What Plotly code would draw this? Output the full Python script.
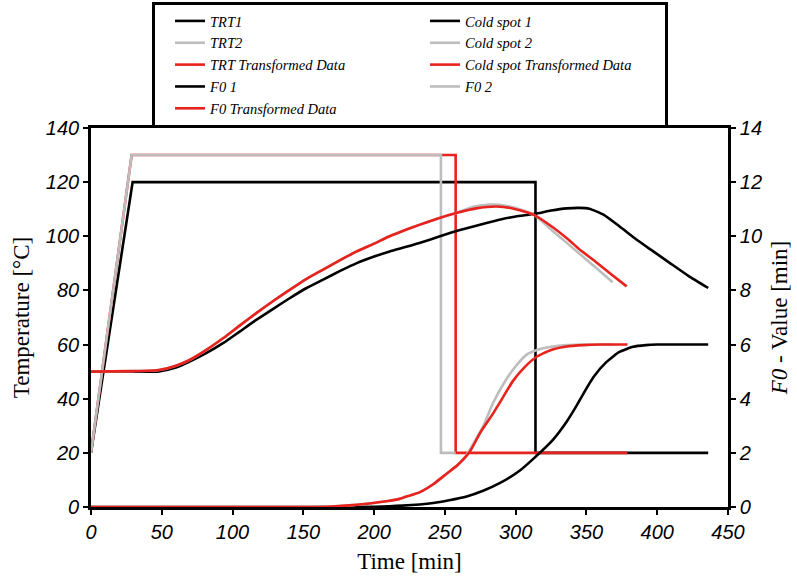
import plotly.graph_objects as go

# --- Retort temperature profiles (°C) ---
trt1_t = [0, 29.4, 314, 314, 436]
trt1_v = [20, 120, 120, 20, 20]
trt2_t = [0, 28.7, 247.2, 247.2, 257.6]
trt2_v = [20, 130, 130, 20, 20]
trt_tr_t = [0, 28.7, 257.6, 257.6, 379]
trt_tr_v = [20, 130, 130, 20, 20]

# --- Cold spot temperatures (°C) ---
cs1_t = [0, 30, 48, 60, 70, 82, 93.5, 105, 117, 129, 140.6, 152, 164, 176, 187.7,
         200, 211, 222, 232, 246.5, 260, 274.8, 290, 300, 313.6, 325, 336, 345, 352,
         362, 373, 385.5, 397, 409, 422, 436]
cs1_v = [50, 50, 50.1, 51.5, 53.8, 57, 60.6, 64.8, 69.2, 73.3, 77.2, 80.8, 84, 87.2, 90.1,
         92.5, 94.4, 96, 97.5, 100, 102.2, 104.3, 106.3, 107.3, 108.3, 109.5, 110.3, 110.5, 110.2,
         108, 103.8, 98.7, 94.5, 90.1, 85.4, 80.9]

cs2_t = [0, 30, 48, 60, 70, 82, 93.5, 105, 117, 129, 140.6, 152, 164, 176, 187.7,
         200, 211, 222, 232.4, 245, 258, 270, 282, 294, 305, 314, 325, 337, 347, 358, 368.5]
cs2_v = [50, 50.2, 50.6, 52.2, 54.4, 58.2, 62.4, 67, 71.7, 76.2, 80.3, 84.2, 87.7, 91.2, 94.4,
         97.3, 100, 102.3, 104.3, 106.6, 108.6, 110.9, 111.7, 111.2, 109.6, 107.5, 102.5, 97.2,
         92.7, 87.8, 83]

cs_tr_t = [0, 30, 48, 60, 70, 82, 93.5, 105, 117, 129, 140.6, 152, 164, 176, 187.7,
           200, 211, 222, 232.4, 245, 258, 272, 286.6, 298, 312.5, 325, 337, 345.4, 356, 367, 378.4]
cs_tr_v = [50, 50.2, 50.6, 52.2, 54.4, 58.2, 62.4, 67, 71.7, 76.2, 80.3, 84.2, 87.7, 91.2, 94.4,
           97.3, 100, 102.3, 104.3, 106.6, 108.6, 110.3, 111, 110.3, 108, 103.8, 98.9, 95, 90.8,
           86.2, 81.5]

# --- Accumulated F0 values (min) ---
f01_t = [0, 150, 200, 220, 241.8, 253, 265.4, 277, 289, 303, 317, 326.6, 336, 342, 348,
         355, 364, 373, 383, 392, 400, 420, 436]
f01_v = [0, 0, 0.01, 0.05, 0.15, 0.25, 0.39, 0.6, 0.89, 1.35, 2.0, 2.5, 3.15, 3.65, 4.2,
         4.8, 5.35, 5.72, 5.92, 5.98, 6.0, 6.0, 6.0]

f02_t = [0, 150, 170, 185, 199.5, 210, 218, 225, 232.4, 242, 251, 259, 265, 277, 284, 292,
         300, 307.8, 315, 325, 336, 350, 368.5]
f02_v = [0, 0, 0.02, 0.07, 0.15, 0.22, 0.3, 0.42, 0.55, 0.85, 1.22, 1.55, 1.9, 2.98, 3.84, 4.6,
         5.2, 5.63, 5.8, 5.92, 5.98, 6.0, 6.0]

f0_tr_t = [0, 150, 170, 185, 199.5, 210, 218, 225, 232.4, 242, 251, 259, 267.7, 275, 284,
           291, 298, 306, 314.8, 325, 336, 348, 360, 379]
f0_tr_v = [0, 0, 0.02, 0.07, 0.15, 0.22, 0.3, 0.42, 0.55, 0.85, 1.22, 1.55, 2.05, 2.75, 3.45,
           4.05, 4.65, 5.15, 5.55, 5.8, 5.93, 5.98, 6.0, 6.0]

BLACK = "#000000"
GRAY = "#bdbdbd"
RED = "#e8221c"
LW = 2.6

fig = go.Figure()


def add(t, v, name, color, rank, axis="y", smooth=False):
    line = dict(color=color, width=LW)
    if smooth:
        line.update(shape="spline", smoothing=0.5)
    fig.add_trace(go.Scatter(
        x=t, y=v, name=name, mode="lines", yaxis=axis, legendrank=rank,
        line=line, hoverinfo="skip"))


# drawing order (legend order set by legendrank)
add(trt1_t, trt1_v, "TRT1", BLACK, 1)
add(trt_tr_t, trt_tr_v, "TRT Transformed Data", RED, 5)
add(trt2_t, trt2_v, "TRT2", GRAY, 3)
add(cs1_t, cs1_v, "Cold spot 1", BLACK, 2, smooth=True)
add(cs2_t, cs2_v, "Cold spot 2", GRAY, 4, smooth=True)
add(cs_tr_t, cs_tr_v, "Cold spot Transformed Data", RED, 6, smooth=True)
add(f01_t, f01_v, "F0 1", BLACK, 7, "y2", smooth=True)
add(f02_t, f02_v, "F0 2", GRAY, 8, "y2", smooth=True)
add(f0_tr_t, f0_tr_v, "F0 Transformed Data", RED, 9, "y2", smooth=True)

tick_font = dict(family="Liberation Sans", size=20, color="black", style="italic")
title_font = dict(family="Liberation Serif", size=23, color="black")

fig.update_layout(
    width=797, height=578,
    margin=dict(l=91, r=69, t=128, b=71, autoexpand=False),
    paper_bgcolor="white", plot_bgcolor="white",
    showlegend=True,
    legend=dict(
        orientation="h", x=0.0958, xanchor="left", y=1.3325, yanchor="top",
        entrywidth=195, entrywidthmode="pixels", indentation=15,
        font=dict(family="Liberation Serif", size=14.5, color="black", style="italic"),
        bgcolor="white", bordercolor="black", borderwidth=3,
        traceorder="normal",
    ),
    xaxis=dict(
        range=[0, 450], dtick=50, tick0=0,
        showline=True, linecolor="black", linewidth=2.6, mirror=True,
        ticks="outside", ticklen=5, tickwidth=1.5, tickcolor="black",
        showgrid=False, zeroline=False, tickfont=tick_font,
        title=dict(text="Time [min]", font=title_font, standoff=12),
    ),
    yaxis=dict(
        range=[0, 140], dtick=20, tick0=0,
        showline=True, linecolor="black", linewidth=2.6, mirror=True,
        ticks="outside", ticklen=5, tickwidth=1.5, tickcolor="black",
        showgrid=False, zeroline=False, tickfont=tick_font,
        title=dict(text="Temperature [°C]", font=title_font, standoff=10),
    ),
    yaxis2=dict(
        range=[0, 14], dtick=2, tick0=0, overlaying="y", side="right",
        showline=True, linecolor="black", linewidth=2.6,
        ticks="outside", ticklen=5, tickwidth=1.5, tickcolor="black",
        showgrid=False, zeroline=False, tickfont=tick_font,
        title=dict(text="<i>F0</i> - Value [min]", font=title_font, standoff=10),
    ),
)

fig.write_html("out.html")
